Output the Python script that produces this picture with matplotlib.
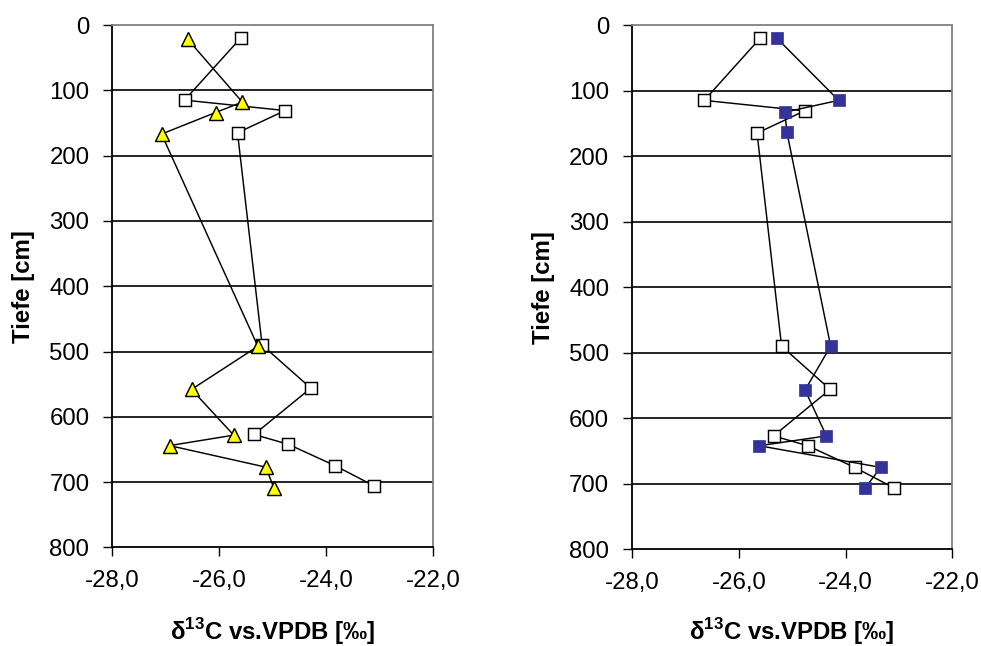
import matplotlib
matplotlib.use("Agg")
import matplotlib.pyplot as plt

plt.rcParams['font.family'] = ['Liberation Sans', 'DejaVu Sans']
plt.rcParams['mathtext.fontset'] = 'custom'
plt.rcParams['mathtext.rm'] = 'Liberation Sans'
plt.rcParams['mathtext.bf'] = 'Liberation Sans:bold'

# reference profile (white squares), shown in both panels
ref_d13c = [-25.6, -26.65, -24.77, -25.66, -25.2, -24.29, -25.35, -24.71, -23.83, -23.1]
ref_depth = [20, 115, 131, 165, 490, 556, 627, 642, 675, 706]

# profile A (yellow triangles)
a_d13c = [-26.59, -25.57, -26.07, -27.08, -25.28, -26.52, -25.73, -26.93, -25.13, -24.98]
a_depth = [22, 118, 134, 167, 492, 558, 628, 644, 677, 709]

# profile B (blue squares)
b_d13c = [-25.29, -24.13, -25.14, -25.1, -24.28, -24.76, -24.36, -25.62, -23.34, -23.64]
b_depth = [20, 115, 133, 164, 490, 557, 627, 642, 675, 707]

xticks = [-28.0, -26.0, -24.0, -22.0]
yticks = [0, 100, 200, 300, 400, 500, 600, 700, 800]

fig = plt.figure(figsize=(9.81, 6.46), dpi=100)
ax1 = fig.add_axes([0.1145, 0.1525, 0.3272, 0.8088])
ax2 = fig.add_axes([0.6445, 0.1497, 0.3262, 0.8116])

ax1.plot(ref_d13c, ref_depth, color='black', lw=1.05, marker='s', ms=8.8,
         mfc='white', mec='black', mew=1.05, zorder=3)
ax1.plot(a_d13c, a_depth, color='black', lw=1.05, marker='^', ms=9.8,
         mfc='#ffff00', mec='black', mew=1.05, zorder=4)

ax2.plot(ref_d13c, ref_depth, color='black', lw=1.05, marker='s', ms=8.8,
         mfc='white', mec='black', mew=1.05, zorder=3)
ax2.plot(b_d13c, b_depth, color='black', lw=1.05, marker='s', ms=8.8,
         mfc='#333399', mec='#333399', mew=0.5, zorder=4)

for ax, bottom_px, h_px in ((ax1, 547.5, 522.5), (ax2, 549.3, 524.3)):
    ax.set_xlim(-28, -22)
    ax.set_ylim(800, 0)
    ax.set_xticks(xticks)
    ax.set_xticklabels([f"{t:.1f}".replace('.', ',') for t in xticks])
    ax.set_yticks(yticks)
    ax.set_yticklabels([str(t) for t in yticks])
    ax.tick_params(labelsize=17.3, length=6.5, width=1.0, pad=10, color='black')
    for y in yticks[1:-1]:
        ax.axhline(y, color='black', lw=1.2, zorder=1)
    ax.spines['left'].set_color('black')
    ax.spines['bottom'].set_color('black')
    ax.spines['top'].set_color('#808080')
    ax.spines['right'].set_color('#808080')
    for s in ax.spines.values():
        s.set_linewidth(1.3)
    ax.set_ylabel('Tiefe [cm]', fontsize=17.3, fontweight='bold', va='center')
    ax.yaxis.set_label_coords(-89 / 321, 0.5)
    ax.set_xlabel(r'δ$^{\mathbf{13}}$C vs.VPDB [‰]', fontsize=17.3,
                  fontweight='bold', va='baseline')
    ax.xaxis.set_label_coords(0.5, (bottom_px - 639.5) / h_px)

fig.savefig('out.png', dpi=100)
